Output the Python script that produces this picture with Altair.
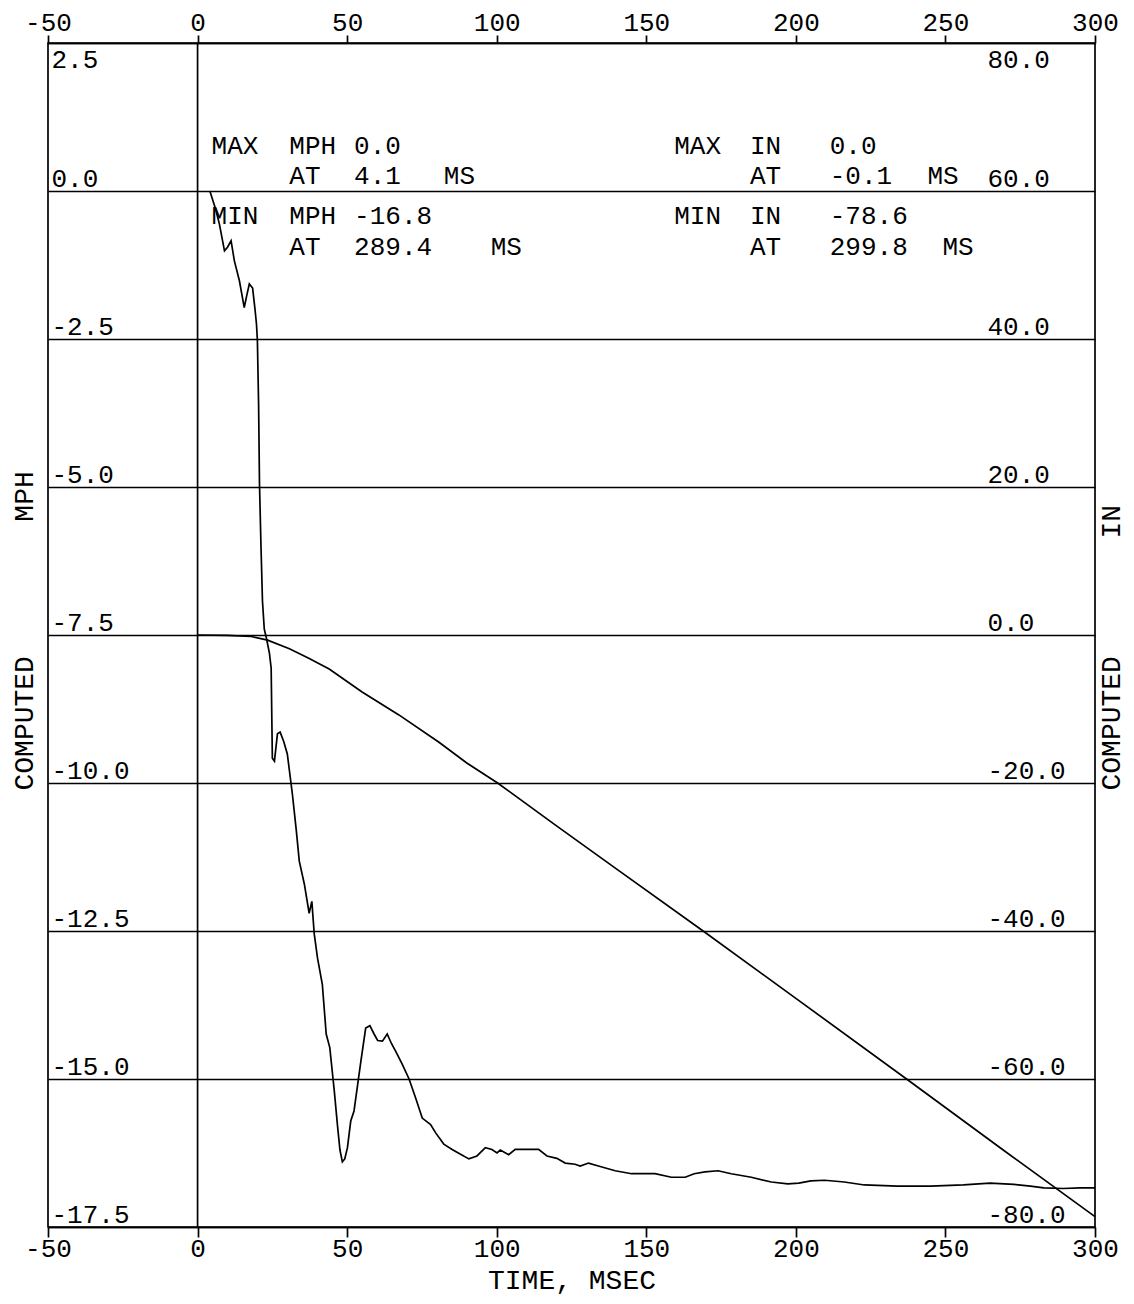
import altair as alt
import pandas as pd

FONT = "Liberation Mono"

# ---- computed velocity (MPH) vs time (ms) ----
mph_t = [4.1, 6.0, 7.3, 9.0, 10.0, 11.2, 12.3, 14.0, 15.6, 16.5, 17.3, 18.4, 19.2, 19.7,
         20.0, 20.4, 20.7, 21.2, 21.7, 22.3, 23.0, 24.0, 24.6, 25.0, 25.7, 26.7, 27.6,
         28.8, 30.0, 31.7, 33.0, 34.0, 35.7, 37.3, 38.2, 39.0, 40.1, 41.7, 43.0, 44.2,
         45.7, 46.8, 47.6, 48.4, 49.2, 50.1, 51.2, 52.3, 53.5, 54.6, 56.2, 57.6, 59.0,
         60.2, 61.8, 63.4, 64.8, 66.2, 68.4, 70.7, 72.9, 75.1, 77.9, 79.6, 82.3, 85.1,
         87.9, 90.7, 93.4, 96.2, 98.4, 100.1, 101.2, 104.0, 106.2, 110.0, 114.0, 116.8,
         120.1, 122.9, 126.2, 127.9, 130.7, 134.0, 139.6, 145.1, 152.9, 158.4, 163.0,
         166.0, 169.6, 174.0, 178.4, 185.1, 191.8, 197.3, 201.0, 205.0, 209.6, 216.2,
         222.9, 234.0, 245.0, 256.0, 264.9, 272.9, 278.4, 282.9, 289.4, 295.0, 300.0]
mph_v = [0.0, -0.3, -0.56, -1.01, -0.95, -0.84, -1.18, -1.52, -1.97, -1.75, -1.57, -1.64,
         -2.0, -2.25, -2.53, -3.6, -4.95, -6.0, -6.93, -7.4, -7.55, -7.8, -8.06, -9.58,
         -9.63, -9.17, -9.14, -9.3, -9.51, -10.19, -10.8, -11.32, -11.71, -12.2, -12.0,
         -12.55, -12.96, -13.4, -14.24, -14.47, -15.2, -15.8, -16.2, -16.4, -16.35, -16.16,
         -15.71, -15.54, -15.1, -14.7, -14.14, -14.1, -14.24, -14.35, -14.36, -14.24, -14.4,
         -14.53, -14.75, -15.0, -15.32, -15.66, -15.77, -15.91, -16.1, -16.19, -16.27,
         -16.35, -16.3, -16.16, -16.19, -16.25, -16.2, -16.28, -16.19, -16.19, -16.19,
         -16.3, -16.34, -16.42, -16.44, -16.47, -16.42, -16.47, -16.55, -16.6, -16.6,
         -16.66, -16.66, -16.6, -16.57, -16.55, -16.6, -16.66, -16.74, -16.77, -16.76,
         -16.72, -16.71, -16.74, -16.79, -16.81, -16.81, -16.79, -16.76, -16.78, -16.81,
         -16.84, -16.85, -16.84, -16.84]

# ---- computed displacement (IN) vs time (ms) ----
in_t = [0.0, 10.0, 18.0, 23.4, 30.7, 37.0, 44.0, 55.0, 67.3, 80.7, 90.0, 100.3, 120.0,
        140.0, 169.0, 200.0, 237.0, 270.0, 300.0]
in_v = [0.0, -0.05, -0.2, -0.7, -1.85, -3.1, -4.6, -7.7, -10.8, -14.5, -17.3, -20.0,
        -25.8, -31.6, -40.0, -49.1, -60.0, -69.8, -78.6]

# ---- axis ticks ----
x_ticks = [-50, 0, 50, 100, 150, 200, 250, 300]
mph_ticks = [2.5, 0.0, -2.5, -5.0, -7.5, -10.0, -12.5, -15.0, -17.5]
in_ticks = [80, 60, 40, 20, 0, -20, -40, -60, -80]

# ---- summary annotation tokens (anchor in ms / MPH units) ----
ann_text = ["MAX", "MPH", "0.0", "AT", "4.1", "MS",
            "MIN", "MPH", "-16.8", "AT", "289.4", "MS",
            "MAX", "IN", "0.0", "AT", "-0.1", "MS",
            "MIN", "IN", "-78.6", "AT", "299.8", "MS"]
ann_t = [4.67, 30.67, 52.33, 30.67, 52.33, 82.33,
         4.67, 30.67, 52.33, 30.67, 52.33, 98.0,
         159.33, 184.67, 211.33, 184.67, 211.33, 244.0,
         159.33, 184.67, 211.33, 184.67, 211.33, 249.0]
ann_mph = [0.625, 0.625, 0.625, 0.118, 0.118, 0.118,
           -0.557, -0.557, -0.557, -1.08, -1.08, -1.08,
           0.625, 0.625, 0.625, 0.118, 0.118, 0.118,
           -0.557, -0.557, -0.557, -1.08, -1.08, -1.08]

mph_df = pd.DataFrame({"t": mph_t, "mph": mph_v})
in_df = pd.DataFrame({"t": in_t, "inch": in_v})
ann_df = pd.DataFrame({"label": ann_text, "t": ann_t, "mph": ann_mph})
zero_df = pd.DataFrame({"t": [0]})

W, H = 1047, 1184
LW = 1.7

xscale = alt.Scale(domain=[-50, 300], nice=False, zero=False)
yscale_mph = alt.Scale(domain=[-17.5, 2.5], nice=False, zero=False)
yscale_in = alt.Scale(domain=[-80, 80], nice=False, zero=False)

fmt1 = "datum.value < 0 ? '-' + format(-datum.value, '.1f') : format(datum.value, '.1f')"
fmt0 = "datum.value < 0 ? '-' + format(-datum.value, 'd') : format(datum.value, 'd')"
NB = "\u00a0"

x_bottom = alt.Axis(orient="bottom", values=x_ticks, labelExpr=fmt0, title="TIME, MSEC",
                    grid=False, domain=True, domainColor="black", domainWidth=LW,
                    ticks=True, tickColor="black", tickSize=10, tickWidth=LW,
                    labelFont=FONT, labelFontSize=26, labelColor="black", labelPadding=-2,
                    labelFlush=False, labelOverlap=False,
                    titleFont=FONT, titleFontSize=28, titleFontWeight="normal",
                    titleColor="black", titlePadding=5)

x_top = alt.Axis(orient="top", values=x_ticks, labelExpr=fmt0, title=None,
                 grid=False, domain=True, domainColor="black", domainWidth=LW,
                 ticks=True, tickColor="black", tickSize=8, tickWidth=LW,
                 labelFont=FONT, labelFontSize=26, labelColor="black",
                 labelBaseline="alphabetic", labelPadding=5,
                 labelFlush=False, labelOverlap=False)

y_left = alt.Axis(orient="left", values=mph_ticks, labelExpr=fmt1,
                  grid=True, gridColor="black", gridWidth=LW, gridOpacity=1,
                  domain=False, ticks=False, labelAlign="left", labelPadding=-3,
                  labelBaseline={"condition": {"test": "datum.value >= 2.5", "value": "top"},
                                 "value": "bottom"},
                  labelOffset={"condition": {"test": "datum.value >= 2.5", "value": 3},
                               "value": 0},
                  labelFont=FONT, labelFontSize=26, labelColor="black", labelOverlap=False,
                  title="COMPUTED" + NB * 8 + "MPH", titleAngle=270, titleX=-24, titleY=747,
                  titleAlign="left", titleBaseline="middle", titleFont=FONT,
                  titleFontSize=28, titleFontWeight="normal", titleColor="black")

y_right = alt.Axis(orient="right", values=in_ticks, labelExpr=fmt1,
                   grid=False, domain=False, ticks=False, labelAlign="left", labelPadding=-108,
                   labelBaseline={"condition": {"test": "datum.value >= 80", "value": "top"},
                                  "value": "bottom"},
                   labelOffset={"condition": {"test": "datum.value >= 80", "value": 3},
                                "value": 0},
                   labelFont=FONT, labelFontSize=26, labelColor="black", labelOverlap=False,
                   title="COMPUTED" + NB * 7 + "IN", titleAngle=270, titleX=16, titleY=747,
                   titleAlign="left", titleBaseline="middle", titleFont=FONT,
                   titleFontSize=28, titleFontWeight="normal", titleColor="black")

mph_line = alt.Chart(mph_df).mark_line(color="black", strokeWidth=LW).encode(
    x=alt.X("t:Q", scale=xscale, axis=x_bottom),
    y=alt.Y("mph:Q", scale=yscale_mph, axis=y_left),
)
in_line = alt.Chart(in_df).mark_line(color="black", strokeWidth=LW).encode(
    x=alt.X("t:Q", scale=xscale, axis=x_top),
    y=alt.Y("inch:Q", scale=yscale_in, axis=y_right),
)
zero_rule = alt.Chart(zero_df).mark_rule(color="black", strokeWidth=LW).encode(
    x=alt.X("t:Q", scale=xscale, axis=None),
)
ann = alt.Chart(ann_df).mark_text(align="left", baseline="alphabetic", font=FONT,
                                  fontSize=26, color="black").encode(
    x=alt.X("t:Q", scale=xscale, axis=None),
    y=alt.Y("mph:Q", scale=yscale_mph, axis=None),
    text="label:N",
)

chart = alt.layer(mph_line, in_line, zero_rule, ann).resolve_scale(
    x="independent", y="independent"
).properties(
    width=W, height=H,
    autosize=alt.AutoSizeParams(type="none"),
    padding={"left": 40, "top": 35, "right": 31, "bottom": 68},
    background="white",
).configure_view(stroke="black", strokeWidth=LW)

chart.save("out.html", embed_options={"renderer": "svg", "actions": False})
